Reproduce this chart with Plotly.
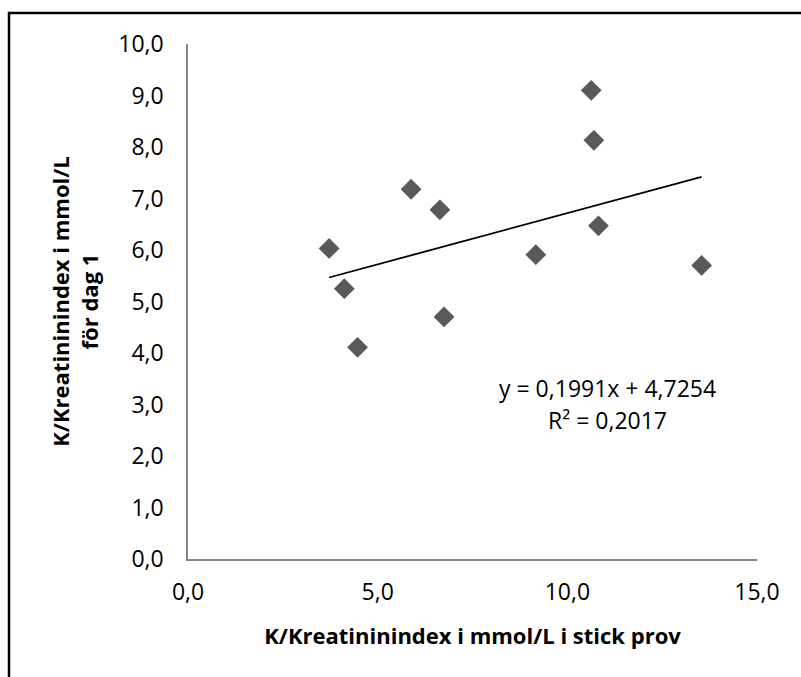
import plotly.graph_objects as go

x_vals = [3.72, 4.12, 4.47, 5.88, 6.64, 6.75, 9.17, 10.63, 10.70, 10.82, 13.54]
y_vals = [6.03, 5.25, 4.11, 7.18, 6.78, 4.70, 5.91, 9.10, 8.13, 6.47, 5.70]
slope = 0.1991
intercept = 4.7254
r2 = 0.2017
x_ticks = [0, 5, 10, 15]
x_ticklabels = ["0,0", "5,0", "10,0", "15,0"]
y_ticks = list(range(0, 11))
y_ticklabels = [f"{v},0" for v in y_ticks]

font = "Open Sans"
W, H = 801, 677
L, R, T, B = 188, 44, 44, 118
FS = 23
TS = 22

fig = go.Figure()
xmin, xmax = min(x_vals), max(x_vals)
fig.add_trace(go.Scatter(x=[xmin, xmax], y=[slope * xmin + intercept, slope * xmax + intercept],
                         mode="lines", line=dict(color="black", width=1.8), showlegend=False))
fig.add_trace(go.Scatter(x=x_vals, y=y_vals, mode="markers",
                         marker=dict(symbol="diamond", size=16, color="#595959"), showlegend=False))

fig.add_annotation(x=11.05, y=3.32, text="y = 0,1991x + 4,7254", showarrow=False,
                   font=dict(family=font, size=FS, color="black"))
fig.add_annotation(x=11.05, y=2.70, text="R² = 0,2017", showarrow=False,
                   font=dict(family=font, size=FS, color="black"))

pw, ph = W - L - R, H - T - B
fig.add_shape(type="rect", xref="paper", yref="paper",
              x0=(9 - L) / pw, x1=(W + 20 - L) / pw,
              y0=-0.4, y1=(H - B - 13) / ph,
              line=dict(color="black", width=2.5), fillcolor="rgba(0,0,0,0)")

tf = dict(family=font, size=FS, color="black")
ttf = dict(family=font, size=TS, color="black")
fig.update_layout(
    width=W, height=H, margin=dict(l=L, r=R, t=T, b=B),
    plot_bgcolor="white", paper_bgcolor="white",
    font=dict(family=font, size=FS, color="black"),
    xaxis=dict(range=[0, 15], tickvals=x_ticks, ticktext=x_ticklabels, showgrid=False,
               zeroline=False, showline=True, linecolor="#868686", linewidth=1.5,
               ticks="", ticklabelstandoff=12, tickfont=tf,
               title=dict(text="<b>K/Kreatininindex i mmol/L i stick prov</b>", standoff=22,
                          font=ttf)),
    yaxis=dict(range=[0, 10], tickvals=y_ticks, ticktext=y_ticklabels, showgrid=False,
               zeroline=False, showline=True, linecolor="#868686", linewidth=1.5,
               ticks="", ticklabelstandoff=18, tickfont=tf,
               title=dict(text="<b>K/Kreatininindex i mmol/L<br>för dag 1</b>", standoff=14,
                          font=ttf)),
)

fig.write_html("out.html")
